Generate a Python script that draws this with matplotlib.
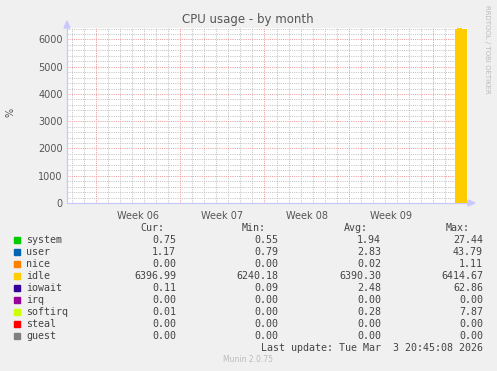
import matplotlib
matplotlib.use("Agg")
import matplotlib.pyplot as plt
from matplotlib.patches import Rectangle, Polygon
import numpy as np

# data: days since Mon Feb 2 2026 00:00, only the last day has samples
times = [29.8, 30.0, 30.2, 30.4, 30.6, 30.8]
series = ["system", "user", "nice", "idle", "iowait", "irq", "softirq", "steal", "guest"]
colours = ["#00CC00", "#0066B3", "#FF8000", "#FFCC00", "#330099",
           "#990099", "#CCFF00", "#FF0000", "#808080"]
values = {
    "system":  [0.8, 0.7, 0.6, 0.8, 0.75],
    "user":    [1.3, 1.1, 0.9, 1.2, 1.17],
    "nice":    [0.0, 0.0, 0.0, 0.0, 0.0],
    "idle":    [6396.5, 6410.2, 6405.1, 6398.3, 6396.99],
    "iowait":  [0.2, 0.1, 0.1, 0.1, 0.11],
    "irq":     [0.0, 0.0, 0.0, 0.0, 0.0],
    "softirq": [0.02, 0.01, 0.01, 0.01, 0.01],
    "steal":   [0.0, 0.0, 0.0, 0.0, 0.0],
    "guest":   [0.0, 0.0, 0.0, 0.0, 0.0],
}
cur = ["0.75", "1.17", "0.00", "6396.99", "0.11", "0.00", "0.01", "0.00", "0.00"]
mins = ["0.55", "0.79", "0.00", "6240.18", "0.09", "0.00", "0.00", "0.00", "0.00"]
avgs = ["1.94", "2.83", "0.02", "6390.30", "2.48", "0.00", "0.28", "0.00", "0.00"]
maxs = ["27.44", "43.79", "1.11", "6414.67", "62.86", "0.00", "7.87", "0.00", "0.00"]
week_labels = ["Week 06", "Week 07", "Week 08", "Week 09"]
week_starts = [0, 7, 14, 21, 28]
y_ticks = [0, 1000, 2000, 3000, 4000, 5000, 6000]

W, H = 497, 371
fig = plt.figure(figsize=(W / 100, H / 100), dpi=100, facecolor="#F0F0F0")

def fx(px):
    return px / W

def fy(py):
    return 1 - py / H

left, right, top, bottom = 67, 468, 28, 203
ax = fig.add_axes([fx(left), fy(bottom), fx(right - left), (bottom - top) / H])
ax.set_facecolor("white")
ax.set_xlim(-2.4, 30.9)
ax.set_ylim(0, 6420)

# dotted grid
dot = dict(lw=0.72, ls=(0, (1, 1.2)), zorder=1)
for d in np.arange(-2, 31, 1):
    if d not in week_starts:
        ax.axvline(d, color="#C2C2C2", **dot)
for v in np.arange(200, 6420, 200):
    if v % 1000:
        ax.axhline(v, color="#C2C2C2", **dot)
for d in week_starts:
    ax.axvline(d, color="#EE9999", **dot)
for v in y_ticks[1:]:
    ax.axhline(v, color="#EE9999", **dot)

# stacked areas
base = np.zeros(len(times))
for name, col in zip(series, colours):
    vals = np.array(values[name] + [values[name][-1]])
    ax.fill_between(times, base, base + vals, step="post", color=col, lw=0, zorder=3)
    base = base + vals

# axes styling
for s in ["top", "right"]:
    ax.spines[s].set_visible(False)
for s in ["left", "bottom"]:
    ax.spines[s].set_color("#C8C8FF")
    ax.spines[s].set_linewidth(0.9)
ax.set_xticks([d + 3.5 for d in week_starts[:-1]])
ax.set_xticklabels(week_labels)
ax.set_yticks(y_ticks)
ax.tick_params(axis="both", length=0, labelsize=7, labelcolor="#555555", pad=3)
ax.tick_params(axis="x", pad=6)

# axis arrows
fig.patches.append(Polygon([(fx(left - 3), fy(top)), (fx(left + 3), fy(top)), (fx(left), fy(top - 7))],
                           closed=True, color="#C8C8FF", transform=fig.transFigure))
fig.patches.append(Polygon([(fx(right), fy(bottom - 3)), (fx(right), fy(bottom + 3)),
                            (fx(right + 7), fy(bottom))],
                           closed=True, color="#C8C8FF", transform=fig.transFigure))

fig.text(fx(248), fy(19), "CPU usage - by month", ha="center", va="center",
         fontsize=8.5, color="#555555")
fig.text(fx(11), fy(112), "%", rotation=90, ha="center", va="center",
         fontsize=7, color="#555555")
fig.text(fx(487), fy(5), "RRDTOOL / TOBI OETIKER", rotation=270, ha="center", va="top",
         fontsize=5, color="#BBBBBB")

# legend
mono = "DejaVu Sans Mono"
tc = "#444444"
fs = 7.2
for px, head in zip([164, 266, 368, 470], ["Cur:", "Min:", "Avg:", "Max:"]):
    fig.text(fx(px), fy(228), head, ha="right", va="center", family=mono, fontsize=fs, color=tc)
for i, name in enumerate(series):
    py = 240 + 12 * i
    fig.patches.append(Rectangle((fx(14), fy(py + 3)), 6 / W, 6 / H, color=colours[i],
                                 transform=fig.transFigure))
    fig.text(fx(26), fy(py), name, ha="left", va="center", family=mono, fontsize=fs, color=tc)
    for px, col in zip([176, 278, 381, 483], [cur, mins, avgs, maxs]):
        fig.text(fx(px), fy(py), col[i], ha="right", va="center", family=mono,
                 fontsize=fs, color=tc)
fig.text(fx(483), fy(348), "Last update: Tue Mar  3 20:45:08 2026", ha="right", va="center",
         family=mono, fontsize=fs, color=tc)
fig.text(fx(248), fy(360), "Munin 2.0.75", ha="center", va="center", fontsize=5.5,
         color="#BBBBBB")

fig.savefig("out.png", dpi=100, facecolor=fig.get_facecolor())
